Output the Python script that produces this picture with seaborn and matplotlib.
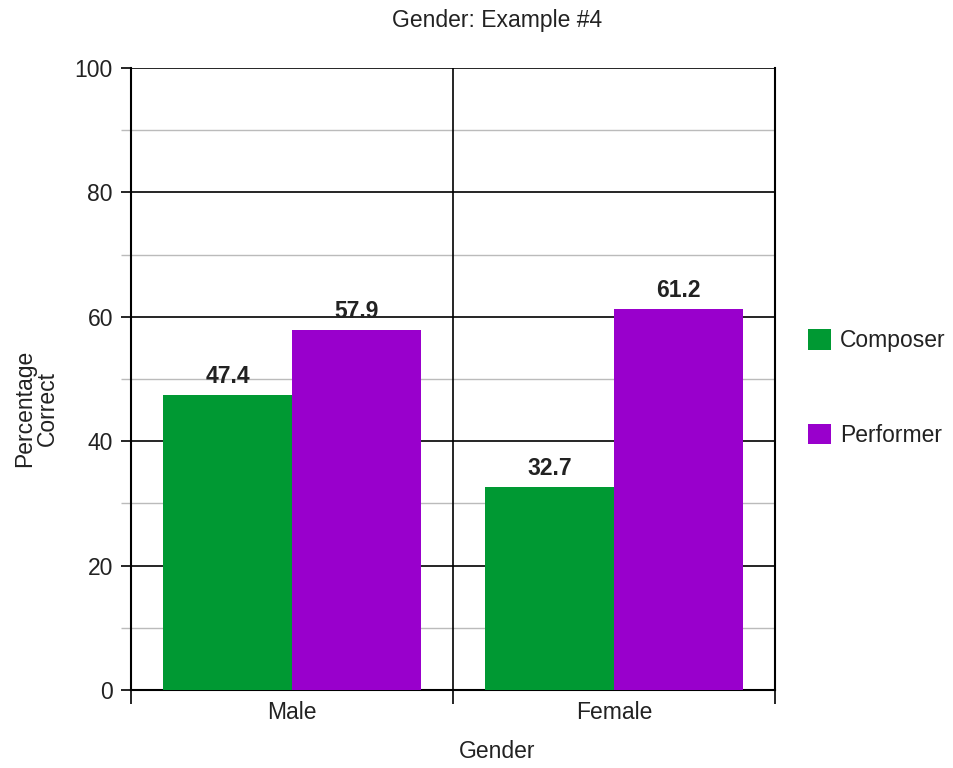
import matplotlib
matplotlib.use("Agg")
import matplotlib.pyplot as plt
import seaborn as sns
import pandas as pd
from matplotlib.ticker import MultipleLocator, FixedLocator
from matplotlib.patches import Patch

genders = ["Male", "Female"]
roles = ["Composer", "Performer"]
composer_pct = [47.4, 32.7]
performer_pct = [57.9, 61.2]
role_colors = ["#009933", "#9900CC"]

df = pd.DataFrame({
    "Gender": genders * 2,
    "Role": [roles[0]] * 2 + [roles[1]] * 2,
    "Pct": composer_pct + performer_pct,
})

sns.set_style("white")
plt.rcParams["font.family"] = ["Liberation Sans", "DejaVu Sans"]

FS = 16.5
TXT = "#222222"

fig = plt.figure(figsize=(9.54, 7.68), dpi=100)
ax = fig.add_axes([131 / 954, 78 / 768, 644 / 954, 622 / 768])

sns.barplot(data=df, x="Gender", y="Pct", hue="Role", order=genders,
            hue_order=roles, palette=role_colors, width=0.8, saturation=1,
            linewidth=0, errorbar=None, legend=False, ax=ax, zorder=3)

ax.set_xlim(-0.5, 1.5)
ax.set_ylim(0, 100)

# y grid: dark majors every 20, light minors every 10
ax.yaxis.set_major_locator(MultipleLocator(20))
ax.yaxis.set_minor_locator(MultipleLocator(10))
ax.grid(axis="y", which="major", color="black", linewidth=1.2, zorder=1)
ax.grid(axis="y", which="minor", color="#bbbbbb", linewidth=1.0, zorder=1)
ax.set_axisbelow(True)

# category separators on x
ax.xaxis.set_minor_locator(FixedLocator([-0.5, 0.5, 1.5]))
ax.axvline(0.5, color="black", linewidth=1.2, zorder=2)

ax.tick_params(axis="y", which="major", direction="out", length=7, width=1.2,
               color="black", labelsize=FS, labelcolor=TXT, left=True, pad=6)
ax.tick_params(axis="y", which="minor", direction="out", length=7, width=1.0,
               color="#bbbbbb", left=True)
ax.tick_params(axis="x", which="major", length=0, labelsize=FS,
               labelcolor=TXT, pad=8)
ax.tick_params(axis="x", which="minor", direction="out", length=10, width=1.2,
               color="black", bottom=True)

for side in ["left", "bottom", "right"]:
    ax.spines[side].set_visible(True)
    ax.spines[side].set_color("black")
    ax.spines[side].set_linewidth(1.5)
ax.spines["top"].set_visible(False)

ax.set_xlabel("")
ax.set_ylabel("")

for container in ax.containers:
    ax.bar_label(container, fmt="%.1f", padding=5, fontsize=FS,
                 fontweight="bold", color=TXT)

fig.text(497 / 954, 1 - 20 / 768, "Gender: Example #4", ha="center",
         va="center", fontsize=FS, color=TXT)
fig.text(497 / 954, 1 - 752 / 768, "Gender", ha="center", va="center",
         fontsize=FS, color=TXT)
fig.text(36 / 954, 1 - 408 / 768, "Percentage\nCorrect", ha="center",
         va="center", rotation=90, fontsize=FS, color=TXT,
         linespacing=0.95)

handles = [Patch(facecolor=c, edgecolor="none") for c in role_colors]
fig.legend(handles, roles, loc="center left",
           bbox_to_anchor=(787 / 954, 1 - 388 / 768), frameon=False,
           fontsize=FS, handlelength=1.0, handleheight=1.0,
           labelspacing=3.1, handletextpad=0.4, labelcolor=TXT)

fig.savefig("out.png", dpi=100)
